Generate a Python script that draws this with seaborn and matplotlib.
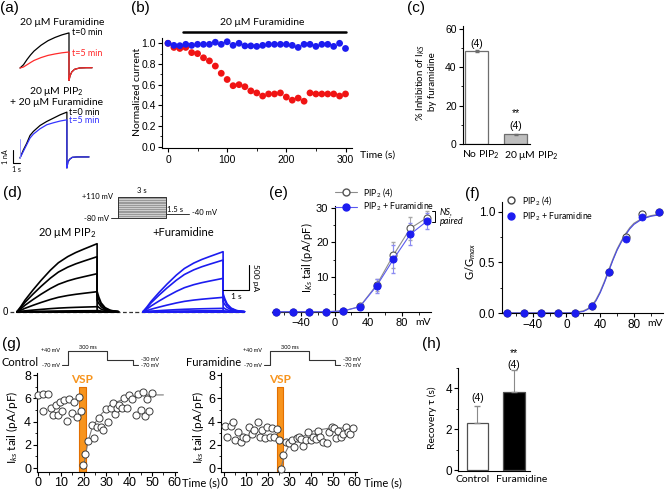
import matplotlib
matplotlib.use("Agg")
import matplotlib.pyplot as plt
from matplotlib.ticker import MultipleLocator, FormatStrFormatter
from matplotlib.lines import Line2D
import pandas as pd
import seaborn as sns

# ---------------- values ----------------
# (a) example traces, time in s, current in nA
a_t = [0, 0.5, 1.0, 1.5, 2.0, 3.0, 4.0, 5.0, 6.0, 7.0]
a_top_t0 = [0, 0.25, 0.65, 1.0, 1.3, 1.75, 2.1, 2.35, 2.55, 2.7]
a_top_t5 = [0, 0.08, 0.25, 0.42, 0.58, 0.8, 0.97, 1.08, 1.17, 1.23]
a_bot_t0 = [0, 0.6, 1.1, 1.7, 2.0, 2.45, 2.75, 3.0, 3.25, 3.45]
a_bot_t5 = [0, 0.5, 1.0, 1.5, 1.8, 2.2, 2.5, 2.65, 2.78, 2.87]
a_tail_t = [7.0, 7.15, 7.4, 7.8, 8.5, 9.5, 10.3]
a_top_tail = [-0.95, -0.6, -0.3, -0.1, 0.0, 0.02, 0.02]
a_bot_tail = [-0.75, -0.3, -0.1, 0.05, 0.08, 0.08, 0.08]

# (b) normalized current vs time
b_time = [0, 10, 20, 30, 40, 50, 60, 70, 80, 90, 100, 110, 120, 130, 140, 150,
          160, 170, 180, 190, 200, 210, 220, 230, 240, 250, 260, 270, 280, 290, 300]
b_ctrl = [1.0, 0.96, 0.95, 0.96, 0.91, 0.90, 0.86, 0.83, 0.78, 0.71, 0.65, 0.59, 0.60, 0.58, 0.54, 0.52,
          0.49, 0.51, 0.51, 0.52, 0.48, 0.45, 0.47, 0.44, 0.52, 0.51, 0.51, 0.51, 0.51, 0.49, 0.51]
b_pip2 = [1.0, 0.98, 0.977, 0.99, 0.98, 0.99, 0.99, 0.99, 1.01, 0.99, 1.015, 0.98, 1.0, 0.975, 0.975, 0.97,
          0.98, 0.99, 0.99, 0.99, 0.99, 0.98, 0.96, 0.99, 0.99, 0.97, 0.99, 0.99, 0.97, 1.0, 0.95]
b_drug = [25, 300]

# (c) % inhibition
c_groups = ["No PIP$_2$", "20 μM PIP$_2$"]
c_mean = [48.5, 5.0]
c_sem = [0.4, 0.3]

# (d) current families (pA), shape of the activation and tail read from the top sweep
d_volt = [-70, -50, -30, -10, 10, 30, 50, 70, 90, 110]
d_step_t = [0, 0.15, 0.3, 0.6, 0.9, 1.25, 1.55, 1.9, 2.2, 2.5, 2.75, 3.0]
d_shape = [0, 0.08, 0.17, 0.32, 0.46, 0.61, 0.72, 0.81, 0.87, 0.92, 0.96, 1.0]
d_tail_t = [3.0, 3.0, 3.06, 3.15, 3.3, 3.5, 3.8]
d_tail_shape = [1.0, 0.3, 0.22, 0.13, 0.06, 0.02, 0.0]
d_amp_pip2 = [0, 0, 0, 0, 20, 100, 400, 760, 1100, 1360]
d_amp_fura = [0, 0, 0, 0, 20, 67, 287, 667, 1033, 1200]

# (e) tail current density
e_volt = [-70, -50, -30, -10, 10, 30, 50, 70, 90, 110]
e_pip2 = [0, 0, 0, 0, 0.2, 1.5, 7.7, 16.3, 24.0, 27.1]
e_pip2_err = [0, 0, 0, 0, 0.1, 0.4, 1.8, 3.8, 3.3, 1.8]
e_fura = [0, 0, 0, 0, 0.2, 1.4, 7.4, 15.1, 22.3, 26.1]
e_fura_err = [0, 0, 0, 0, 0.1, 0.4, 2.0, 4.0, 3.2, 2.3]

# (f) G/Gmax with Boltzmann fits
f_pip2 = [0, 0, 0, 0, 0, 0.07, 0.40, 0.75, 0.98, 1.0]
f_fura = [0, 0, 0, 0, 0, 0.07, 0.40, 0.73, 0.95, 1.0]
f_fit_v = [-76, 0, 10, 20, 25, 30, 35, 40, 45, 50, 55, 60, 65, 70, 75, 80, 90, 100, 114]
f_fit_pip2 = [0, 0, 0.005, 0.02, 0.04, 0.07, 0.13, 0.21, 0.31, 0.42, 0.53, 0.63, 0.71, 0.78, 0.84, 0.885, 0.935, 0.96, 0.98]
f_fit_fura = [0, 0, 0.003, 0.015, 0.035, 0.065, 0.12, 0.20, 0.30, 0.41, 0.52, 0.62, 0.70, 0.77, 0.83, 0.875, 0.93, 0.955, 0.975]

# (g) recovery after VSP
g_ctrl_t = [0.0, 2.0, 2.3, 4.5, 5.6, 6.4, 7.9, 8.9, 9.6, 10.7, 11.5, 12.6, 13.7, 14.8, 15.9, 17.0,
            18.0, 18.7, 19.6, 20.6, 22.1, 23.5, 24.7, 25.7, 26.8, 27.6, 28.6, 29.8, 30.8, 31.9,
            32.8, 33.8, 34.8, 35.7, 36.7, 37.9, 38.9, 39.9, 41.1, 43.0, 44.0, 45.0, 45.9, 46.9,
            47.9, 48.8, 49.9]
g_ctrl_v = [6.3, 6.35, 4.9, 6.35, 5.2, 4.57, 5.43, 4.57, 5.72, 4.9, 5.86, 4.05, 5.95, 4.7, 5.66, 4.42,
            6.15, 4.9, 0.26, 1.18, 2.33, 3.7, 2.56, 3.56, 4.28, 3.56, 3.28, 5.08, 3.94, 5.14,
            5.57, 4.63, 5.14, 5.43, 5.2, 6.0, 5.14, 6.3, 5.95, 4.57, 6.35, 5.0, 6.52, 4.5,
            5.95, 4.9, 6.43]
g_ctrl_fit_t = [19.9, 21.0, 22.1, 23.5, 25.7, 28.0, 30.1, 34.5, 40.4, 47.7, 55.0]
g_ctrl_fit_v = [0.0, 1.3, 2.4, 3.3, 4.1, 4.7, 5.1, 5.7, 6.15, 6.3, 6.3]
g_fura_t = [0.5, 1.5, 3.1, 4.0, 5.0, 6.6, 7.6, 8.9, 10.1, 11.6, 12.7, 13.9, 15.4, 16.5, 17.6, 18.8,
            19.9, 21.1, 22.2, 22.9, 24.2, 25.2, 26.1, 27.2, 28.4, 29.8, 31.0, 32.1, 33.3, 34.4,
            35.3, 36.4, 37.6, 38.7, 39.8, 41.0, 42.2, 43.0, 44.0, 45.5, 47.1, 48.3, 49.4, 50.5,
            51.4, 52.4, 53.5, 54.7, 56.0, 57.0, 57.8, 59.0]
g_fura_v = [3.65, 2.7, 3.65, 4.0, 2.4, 3.07, 2.27, 2.7, 2.6, 3.56, 2.9, 3.28, 4.0, 2.7, 3.28, 2.6,
            3.56, 2.7, 3.48, 2.7, 3.36, 2.4, -0.1, 1.12, 2.27, 2.13, 2.4, 1.84, 2.6, 2.7,
            2.5, 1.92, 2.4, 3.13, 2.4, 2.7, 2.5, 3.19, 2.7, 2.27, 2.13, 3.13, 3.56, 3.48,
            2.6, 3.19, 2.7, 2.9, 3.56, 3.13, 2.9, 3.42]
g_fura_fit_t = [26.1, 28.0, 30.3, 34.9, 41.0, 48.6, 60.0]
g_fura_fit_v = [0.0, 1.26, 2.13, 2.6, 3.19, 3.45, 3.45]
vsp_ctrl = [18.1, 20.9]
vsp_fura = [24.2, 26.9]
vsp_top = 7.0
g_prot_t = [-50, 0, 0, 300, 300, 500, 500, 540]
g_prot_v = [-70, -70, 40, 40, -30, -30, -70, -70]

# (h) recovery tau
h_groups = ["Control", "Furamidine"]
h_mean = [2.3, 3.8]
h_sem = [0.82, 1.1]

# ---------------- style ----------------
sns.set_style("ticks")
plt.rcParams["font.family"] = ["Liberation Sans", "DejaVu Sans"]
plt.rcParams["mathtext.fontset"] = "custom"
plt.rcParams["mathtext.rm"] = "Lato"
plt.rcParams["mathtext.it"] = "Lato:italic"
plt.rcParams["mathtext.bf"] = "Lato:bold"
for k in ["text.color", "axes.labelcolor", "xtick.color", "ytick.color", "axes.edgecolor"]:
    plt.rcParams[k] = "black"

CAL = ["Lato", "DejaVu Sans"]
RED = "#f01414"
BLUE = "#1c1cf0"
GRAY = "#8c8c8c"
ORANGE = "#f7941d"

W, H = 667, 490
fig = plt.figure(figsize=(W / 100, H / 100), dpi=100)


def make_ax(xlim, xref, ylim, yref):
    (xv1, xp1), (xv2, xp2) = xref
    (yv1, yp1), (yv2, yp2) = yref
    sx = (xp2 - xp1) / (xv2 - xv1)
    sy = (yp2 - yp1) / (yv2 - yv1)
    left = xp1 + (xlim[0] - xv1) * sx
    right = xp1 + (xlim[1] - xv1) * sx
    bottom = yp1 + (ylim[0] - yv1) * sy
    top = yp1 + (ylim[1] - yv1) * sy
    ax = fig.add_axes([left / W, 1 - bottom / H, (right - left) / W, (bottom - top) / H])
    ax.set_xlim(xlim)
    ax.set_ylim(ylim)
    ax._lims = (xlim, ylim)
    return ax


def reset(ax):
    ax.set_xlim(ax._lims[0])
    ax.set_ylim(ax._lims[1])


def origin(ax, fs, xmaj=None, xmin=None, ymaj=None, ymin=None, pad=1.5):
    sns.despine(ax=ax)
    ax.set(xlabel=None, ylabel=None)
    ax.patch.set_alpha(0)
    ax.tick_params(which="major", direction="out", length=3, width=0.8, labelsize=fs, pad=pad)
    ax.tick_params(which="minor", direction="out", length=1.8, width=0.6)
    if xmaj:
        ax.xaxis.set_major_locator(MultipleLocator(xmaj))
    if xmin:
        ax.xaxis.set_minor_locator(MultipleLocator(xmin))
    if ymaj:
        ax.yaxis.set_major_locator(MultipleLocator(ymaj))
    if ymin:
        ax.yaxis.set_minor_locator(MultipleLocator(ymin))
    for sp in ax.spines.values():
        sp.set_linewidth(0.8)


def ftext(x, y, s, **kw):
    fig.text(x / W, 1 - y / H, s, **kw)


# panel letters
for lab, x, y in [("(a)", 0, 8), ("(b)", 131, 8), ("(c)", 407, 8), ("(d)", 3, 193),
                  ("(e)", 269, 193), ("(f)", 465, 194), ("(g)", 2, 344), ("(h)", 422, 344)]:
    ftext(x, y, lab, fontsize=11, ha="left", va="center")

# ---------------- (a) ----------------
ax_a1 = make_ax((-1.0, 10.5), ((0, 20), (1, 27)), (-1.3, 3.0), ((0, 68), (1, 55)))
ax_a1.axis("off")
ax_a1.plot(a_t + a_tail_t, a_top_t0 + a_top_tail, color="black", lw=0.9)
ax_a1.plot(a_t + a_tail_t, a_top_t5 + a_top_tail, color="#ff2a2a", lw=0.9)
ax_a1.text(6.0, 3.5, "20 μM Furamidine", family=CAL, fontsize=7.5, ha="center", va="center", clip_on=False)
ax_a1.text(7.5, 2.7, "t=0 min", family=CAL, fontsize=6.5, ha="left", va="center", clip_on=False)
ax_a1.text(7.5, 1.15, "t=5 min", family=CAL, fontsize=6.5, ha="left", va="center", color="#ff2a2a", clip_on=False)

ax_a2 = make_ax((-2.5, 10.5), ((0, 20), (1, 26.7)), (-1.0, 3.9), ((0, 158), (1, 144.7)))
ax_a2.axis("off")
ax_a2.plot(a_t + a_tail_t, a_bot_t0 + a_bot_tail, color="black", lw=0.9)
ax_a2.plot(a_t + a_tail_t, a_bot_t5 + a_bot_tail, color="#3434ff", lw=0.9)
ax_a2.plot([0, 0], [0, 1.4], color="#8a8aff", lw=0.6)
ax_a2.text(5.4, 5.0, "20 μM PIP$_2$", family=CAL, fontsize=7.5, ha="center", va="center", clip_on=False)
ax_a2.text(5.4, 4.2, "+ 20 μM Furamidine", family=CAL, fontsize=7.5, ha="center", va="center", clip_on=False)
ax_a2.text(7.3, 3.4, "t=0 min", family=CAL, fontsize=6.5, ha="left", va="center", clip_on=False)
ax_a2.text(7.3, 2.8, "t=5 min", family=CAL, fontsize=6.5, ha="left", va="center", color="#3434ff", clip_on=False)
ax_a2.plot([-1.0, -1.0, 0.0], [0.6, -0.4, -0.4], color="black", lw=0.8, clip_on=False)
ax_a2.text(-2.2, 0.1, "1 nA", family=CAL, fontsize=5, rotation=90, ha="center", va="center", clip_on=False)
ax_a2.text(-0.5, -0.9, "1 s", family=CAL, fontsize=5, ha="center", va="center", clip_on=False)

# ---------------- (b) ----------------
ax_b = make_ax((-10, 311), ((0, 168), (300, 345.5)), (-0.015, 1.05), ((0, 146.7), (1, 43.3)))
n = len(b_time)
df_b = pd.DataFrame({"time": b_time * 2, "value": b_ctrl + b_pip2,
                     "cond": ["ctrl"] * n + ["pip2"] * n})
sns.scatterplot(data=df_b, x="time", y="value", hue="cond", palette={"ctrl": RED, "pip2": BLUE},
                s=24, edgecolor="none", legend=False, ax=ax_b, clip_on=False)
reset(ax_b)
origin(ax_b, 7.5, 100, 50, 0.2, 0.1)
ax_b.yaxis.set_major_formatter(FormatStrFormatter("%.1f"))
ax_b.plot(b_drug, [1.11, 1.11], color="black", lw=1.8, clip_on=False)
ax_b.text(159, 1.2, "20 μM Furamidine", family=CAL, fontsize=7.5, ha="center", va="center", clip_on=False)
ftext(137.5, 92, "Normalized current", family=CAL, fontsize=7.5, rotation=90, ha="center", va="center")
ftext(360, 155, "Time (s)", family=CAL, fontsize=7.5, ha="left", va="center")

# ---------------- (c) ----------------
ax_c = make_ax((-0.35, 1.37), ((0, 476.5), (1, 515.5)), (0, 61.5), ((0, 144), (60, 29)))
df_c = pd.DataFrame({"group": c_groups, "mean": c_mean})
sns.barplot(data=df_c, x="group", y="mean", hue="group", palette=["white", "#bebebe"], width=0.6,
            edgecolor="#6e6e6e", linewidth=0.9, legend=False, ax=ax_c)
ax_c.errorbar([0, 1], c_mean, yerr=c_sem, fmt="none", ecolor="#6e6e6e", elinewidth=0.8, capsize=1.5)
reset(ax_c)
origin(ax_c, 7.5, None, None, 20, 10)
ax_c.tick_params(axis="x", length=0, labelbottom=False)
ax_c.text(0, 52.2, "(4)", fontsize=7.5, ha="center", va="center")
ax_c.text(1, 9.4, "(4)", fontsize=7.5, ha="center", va="center")
ax_c.text(1, 16.0, "**", fontsize=7.5, ha="center", va="center")
ftext(462, 155, c_groups[0], family=CAL, fontsize=7.5, ha="left", va="center")
ftext(504, 155, c_groups[1], family=CAL, fontsize=7.5, ha="left", va="center")
ftext(426, 82, "% Inhibition of I$_{KS}$\nby furamidine", family=CAL, fontsize=7, rotation=90,
      ha="center", va="center", multialignment="center", linespacing=1.15)

# ---------------- (d) ----------------
ax_d1 = make_ax((-0.3, 4.45), ((0, 17), (1, 43.7)), (-100, 1500), ((0, 311.7), (500, 286.7)))
ax_d2 = make_ax((-0.3, 4.2), ((0, 143), (1, 169.7)), (-100, 1500), ((0, 311.7), (500, 286.7)))
for ax in (ax_d1, ax_d2):
    ax.axis("off")
ax_d1.plot([-0.27, 4.45], [0, 0], ls="--", color="#333333", lw=0.9, dashes=(3, 2))
ax_d2.plot([-0.3, 3.8], [0, 0], ls="--", color="#333333", lw=0.9, dashes=(3, 2))
for amp in d_amp_pip2:
    ax_d1.plot(d_step_t + d_tail_t, [amp * s for s in d_shape] + [amp * s for s in d_tail_shape],
               color="black", lw=1.2)
for amp in d_amp_fura:
    ax_d2.plot(d_step_t + d_tail_t, [amp * s for s in d_shape] + [amp * s for s in d_tail_shape],
               color=BLUE, lw=1.2)
ax_d2.plot([3.0, 3.97, 3.97], [434, 434, 934], color="black", lw=0.8)
ax_d2.text(4.2, 684, "500 pA", family=CAL, fontsize=6, rotation=-90, ha="center", va="center", clip_on=False)
ax_d2.text(3.48, 300, "1 s", family=CAL, fontsize=6, ha="center", va="center")
ftext(3, 312, "0", fontsize=7, ha="left", va="center")
ftext(67.5, 232.7, "20 μM PIP$_2$", family=CAL, fontsize=8, ha="center", va="center")
ftext(182.7, 232.7, "+Furamidine", family=CAL, fontsize=8, ha="center", va="center")

ax_dp = make_ax((-0.5, 5.0), ((0, 118.3), (3, 165.7)), (-90, 120), ((-80, 218.3), (110, 196.7)))
ax_dp.axis("off")
ax_dp.fill_between([0, 3], -80, 110, color="#9a9a9a", lw=0)
for v in d_volt:
    ax_dp.plot([0, 3], [v, v], color="#e4e4e4", lw=0.5)
ax_dp.plot([0, 0, 3, 3, 0], [-80, 110, 110, -80, -80], color="#333333", lw=0.7)
ax_dp.plot([-0.45, 0], [-80, -80], color="#333333", lw=0.7)
ax_dp.plot([3, 4.45], [-40, -40], color="#333333", lw=0.7)
ax_dp.text(-0.35, 110, "+110 mV", family=CAL, fontsize=5.5, ha="right", va="center")
ax_dp.text(-0.6, -85, "-80 mV", family=CAL, fontsize=5.5, ha="right", va="center")
ax_dp.text(1.5, 163, "3 s", family=CAL, fontsize=5.5, ha="center", va="center", clip_on=False)
ax_dp.text(3.59, -1, "1.5 s", family=CAL, fontsize=5.5, ha="center", va="center")
ax_dp.text(4.66, -31, "-40 mV", family=CAL, fontsize=5.5, ha="left", va="center", clip_on=False)

# ---------------- (e) ----------------
ax_e = make_ax((-75, 115), ((0, 334.6), (100, 418.6)), (0, 30.5), ((0, 311.7), (30, 207.6)))
ax_e.errorbar(e_volt, e_pip2, yerr=e_pip2_err, fmt="none", ecolor="#a8a8a8", elinewidth=0.8,
              capsize=1.5, zorder=2, clip_on=False)
ax_e.errorbar(e_volt, e_fura, yerr=e_fura_err, fmt="none", ecolor="#8c8cf2", elinewidth=0.8,
              capsize=1.5, zorder=2, clip_on=False)
sns.lineplot(x=e_volt, y=e_pip2, color=GRAY, lw=0.8, marker="o", markersize=5, markerfacecolor="white",
             markeredgecolor="#555555", markeredgewidth=0.8, errorbar=None, ax=ax_e, zorder=3, clip_on=False)
sns.lineplot(x=e_volt, y=e_fura, color="#5a5af0", lw=0.8, marker="o", markersize=5, markerfacecolor=BLUE,
             markeredgecolor=BLUE, markeredgewidth=0.8, errorbar=None, ax=ax_e, zorder=4, clip_on=False)
reset(ax_e)
origin(ax_e, 8, None, 20, None, 5)
ax_e.spines["left"].set_position(("data", 0))
ax_e.set_xticks([-40, 0, 40, 80])
ax_e.set_yticks([0, 10, 20, 30], ["", "10", "20", "30"])
ax_e.plot([116, 119.5, 119.5, 116], [29.0, 29.0, 25.8, 25.8], color="black", lw=0.7, clip_on=False)
ax_e.text(125.5, 27.4, "NS,\npaired", family=CAL, fontstyle="italic", fontsize=6.5, ha="left",
          va="center", linespacing=1.1, clip_on=False)
ftext(307, 258, "I$_{Ks}$ tail (pA/pF)", family=CAL, fontsize=8, rotation=90, ha="center", va="center")
ftext(423, 322.7, "mV", family=CAL, fontsize=7.5, ha="center", va="center")
h_e = [Line2D([], [], color=GRAY, lw=0.8, marker="o", ms=5, mfc="white", mec="#555555"),
       Line2D([], [], color="#5a5af0", lw=0.8, marker="o", ms=5, mfc=BLUE, mec=BLUE)]
fig.legend(h_e, ["PIP$_2$ (4)", "PIP$_2$ + Furamidine"], loc="upper left",
           bbox_to_anchor=(335 / W, 1 - 186 / H), frameon=False, prop={"family": CAL, "size": 6.3},
           handlelength=2.5, handletextpad=0.7, labelspacing=0.2, borderpad=0, borderaxespad=0)

# ---------------- (f) ----------------
ax_f = make_ax((-76.6, 114), ((0, 566.4), (100, 650.9)), (0, 1.1), ((0, 313), (1, 211.7)))
sns.lineplot(x=f_fit_v, y=f_fit_pip2, color=GRAY, lw=1.0, errorbar=None, ax=ax_f)
sns.lineplot(x=f_fit_v, y=f_fit_fura, color="#4a4ae6", lw=0.8, errorbar=None, ax=ax_f)
sns.scatterplot(x=e_volt, y=f_pip2, s=26, color="white", edgecolor="#444444", linewidth=0.8,
                ax=ax_f, zorder=3, clip_on=False)
sns.scatterplot(x=e_volt, y=f_fura, s=26, color=BLUE, edgecolor=BLUE, linewidth=0.5,
                ax=ax_f, zorder=4, clip_on=False)
reset(ax_f)
origin(ax_f, 8.5, None, 20, 0.5, 0.25)
ax_f.set_xticks([-40, 0, 40, 80])
ax_f.yaxis.set_major_formatter(FormatStrFormatter("%.1f"))
ftext(471, 261, "G/G$_{max}$", family=CAL, fontsize=8, rotation=90, ha="center", va="center")
ftext(655, 323, "mV", family=CAL, fontsize=7.5, ha="center", va="center")
h_f = [Line2D([], [], ls="none", marker="o", ms=5, mfc="white", mec="#444444"),
       Line2D([], [], ls="none", marker="o", ms=5, mfc=BLUE, mec=BLUE)]
fig.legend(h_f, ["PIP$_2$ (4)", "PIP$_2$ + Furamidine"], loc="upper left",
           bbox_to_anchor=(507 / W, 1 - 194 / H), frameon=False, prop={"family": CAL, "size": 6.3},
           handlelength=1.0, handletextpad=0.7, labelspacing=0.35, borderpad=0, borderaxespad=0)

# ---------------- (g) ----------------
ax_g1 = make_ax((-0.6, 60.8), ((0, 38), (60, 174.8)), (-0.32, 8.16), ((0, 468), (8, 375.2)))
ax_g2 = make_ax((-1.5, 61), ((0, 224), (60, 354.8)), (-0.32, 8.16), ((0, 468), (8, 375.2)))
for ax, tt, vv, ft, fv, vsp in [(ax_g1, g_ctrl_t, g_ctrl_v, g_ctrl_fit_t, g_ctrl_fit_v, vsp_ctrl),
                                (ax_g2, g_fura_t, g_fura_v, g_fura_fit_t, g_fura_fit_v, vsp_fura)]:
    ax.fill_between(vsp, -0.32, vsp_top, color=ORANGE, edgecolor="#e36f00", lw=0.8, zorder=1)
    sns.lineplot(x=ft, y=fv, color="#7a7a7a", lw=0.8, errorbar=None, ax=ax, zorder=2)
    sns.scatterplot(x=tt, y=vv, s=26, color="white", edgecolor="#3c3c3c", linewidth=0.7,
                    ax=ax, zorder=3, clip_on=False)
    ax.text(sum(vsp) / 2, 7.6, "VSP", family=CAL, fontsize=8.5, fontweight="bold", color=ORANGE,
            ha="center", va="center")
    reset(ax)
    origin(ax, 9, 10, 5, 2, 1, pad=1.0)
ftext(12, 427, "I$_{ks}$ tail (pA/pF)", family=CAL, fontsize=8.5, rotation=90, ha="center", va="center")
ftext(198.5, 427, "I$_{ks}$ tail (pA/pF)", family=CAL, fontsize=8.5, rotation=90, ha="center", va="center")
ftext(201, 483, "Time (s)", family=CAL, fontsize=8, ha="center", va="center")
ftext(382.5, 483, "Time (s)", family=CAL, fontsize=8, ha="center", va="center")
ftext(20, 362, "Control", family=CAL, fontsize=8, ha="center", va="center")
ftext(214, 362, "Furamidine", family=CAL, fontsize=8, ha="center", va="center")

for x0 in (68, 270):
    axp = make_ax((-60, 560), ((0, x0), (300, x0 + 39)), (-80, 50), ((40, 350.7), (-70, 365)))
    axp.axis("off")
    axp.plot(g_prot_t, g_prot_v, color="#333333", lw=0.8)
    axp.text(-65, 40, "+40 mV", family=CAL, fontsize=4, ha="right", va="center")
    axp.text(-65, -72, "-70 mV", family=CAL, fontsize=4, ha="right", va="center")
    axp.text(150, 44, "300 ms", family=CAL, fontsize=4, ha="center", va="bottom", clip_on=False)
    axp.text(560, -25, "-30 mV", family=CAL, fontsize=4, ha="left", va="center", clip_on=False)
    axp.text(560, -72, "-70 mV", family=CAL, fontsize=4, ha="left", va="center", clip_on=False)

# ---------------- (h) ----------------
ax_h = make_ax((-0.53, 1.44), ((0, 477.5), (1, 514)), (-0.03, 5.0), ((0, 470), (4, 388)))
df_h = pd.DataFrame({"group": h_groups, "tau": h_mean})
sns.barplot(data=df_h, x="group", y="tau", hue="group", palette=["white", "black"], width=0.58,
            edgecolor="#505050", linewidth=0.9, legend=False, ax=ax_h)
ax_h.errorbar([0, 1], h_mean, yerr=[[0, 0], h_sem], fmt="none", ecolor="#8a8a8a", elinewidth=0.8,
              capsize=2)
reset(ax_h)
origin(ax_h, 8.5, None, None, 2, 1)
ax_h.tick_params(axis="x", length=0, labelbottom=False)
ax_h.text(0, 3.5, "(4)", fontsize=7.5, ha="center", va="center")
ax_h.text(1, 5.12, "(4)", fontsize=7.5, ha="center", va="center", clip_on=False)
ax_h.text(1, 5.7, "**", fontsize=7.5, ha="center", va="center", clip_on=False)
ftext(472.5, 479, "Control", family=CAL, fontsize=7.5, ha="center", va="center")
ftext(522, 479, "Furamidine", family=CAL, fontsize=7.5, ha="center", va="center")
ftext(432, 418, "Recovery τ (s)", family=CAL, fontsize=7.5, rotation=90, ha="center", va="center")

fig.savefig("out.png", dpi=100)
